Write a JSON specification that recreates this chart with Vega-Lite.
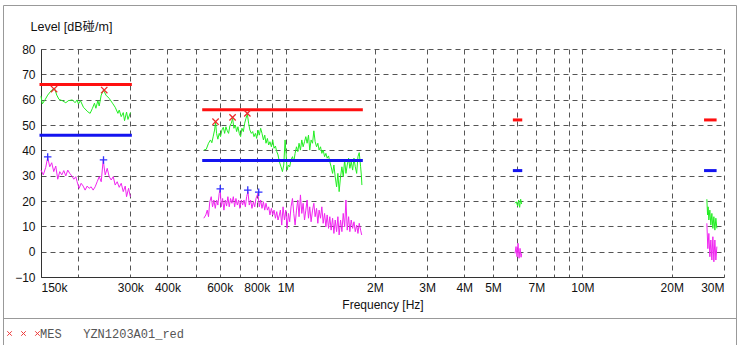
{
  "$schema": "https://vega.github.io/schema/vega-lite/v6.json",
  "padding": {"left": 3, "top": 5, "right": 0, "bottom": 0},
  "config": {
    "view": {"stroke": null},
    "font": "Liberation Sans",
    "axis": {"labelFont": "Liberation Sans", "titleFont": "Liberation Sans, Noto Sans CJK SC", "titleFontWeight": "normal"},
    "axisY": {"labelOverlap": false}
  },
  "datasets": {
    "meas": [
      {"f":150,"dB":61.4,"det":"PK","seg":1},{"f":151.5,"dB":58.3,"det":"PK","seg":1},{"f":154.7,"dB":59.9,"det":"PK","seg":1},{"f":158,"dB":61.8,"det":"PK","seg":1},{"f":163,"dB":63.8,"det":"PK","seg":1},{"f":166.4,"dB":64.6,"det":"PK","seg":1},{"f":169.5,"dB":61.8,"det":"PK","seg":1},{"f":172.5,"dB":60.1,"det":"PK","seg":1},{"f":177,"dB":59.6,"det":"PK","seg":1},{"f":181.8,"dB":58.8,"det":"PK","seg":1},{"f":185.5,"dB":59.6,"det":"PK","seg":1},{"f":191.4,"dB":59.9,"det":"PK","seg":1},{"f":195.4,"dB":58.8,"det":"PK","seg":1},{"f":198.5,"dB":59.9,"det":"PK","seg":1},{"f":200.5,"dB":58.3,"det":"PK","seg":1},{"f":203.7,"dB":59.6,"det":"PK","seg":1},{"f":208.5,"dB":57,"det":"PK","seg":1},{"f":215.7,"dB":55.2,"det":"PK","seg":1},{"f":219.6,"dB":54.6,"det":"PK","seg":1},{"f":223.6,"dB":56.6,"det":"PK","seg":1},{"f":227.1,"dB":58.6,"det":"PK","seg":1},{"f":229.6,"dB":56.6,"det":"PK","seg":1},{"f":233.2,"dB":59.6,"det":"PK","seg":1},{"f":235.6,"dB":57.5,"det":"PK","seg":1},{"f":239.3,"dB":61.8,"det":"PK","seg":1},{"f":243.6,"dB":63.8,"det":"PK","seg":1},{"f":248.2,"dB":61.8,"det":"PK","seg":1},{"f":254.6,"dB":60.5,"det":"PK","seg":1},{"f":261.2,"dB":58.6,"det":"PK","seg":1},{"f":266.7,"dB":57,"det":"PK","seg":1},{"f":272.4,"dB":54.6,"det":"PK","seg":1},{"f":275.2,"dB":55.9,"det":"PK","seg":1},{"f":279.5,"dB":53.3,"det":"PK","seg":1},{"f":283.9,"dB":54.9,"det":"PK","seg":1},{"f":286.8,"dB":51.7,"det":"PK","seg":1},{"f":291.3,"dB":55.1,"det":"PK","seg":1},{"f":294.5,"dB":52.2,"det":"PK","seg":1},{"f":300,"dB":54.9,"det":"PK","seg":1},
      {"f":530.5,"dB":40.1,"det":"PK","seg":2},{"f":540.5,"dB":40.4,"det":"PK","seg":2},{"f":550.1,"dB":42.8,"det":"PK","seg":2},{"f":558.7,"dB":44.1,"det":"PK","seg":2},{"f":564.5,"dB":43,"det":"PK","seg":2},{"f":570.8,"dB":45.6,"det":"PK","seg":2},{"f":576.6,"dB":48,"det":"PK","seg":2},{"f":581.1,"dB":51,"det":"PK","seg":2},{"f":585.6,"dB":46.7,"det":"PK","seg":2},{"f":591.4,"dB":44.4,"det":"PK","seg":2},{"f":597.7,"dB":46.7,"det":"PK","seg":2},{"f":603.9,"dB":45.4,"det":"PK","seg":2},{"f":610.2,"dB":48,"det":"PK","seg":2},{"f":616.9,"dB":49.1,"det":"PK","seg":2},{"f":623.3,"dB":46.7,"det":"PK","seg":2},{"f":629.6,"dB":49.3,"det":"PK","seg":2},{"f":636.3,"dB":47.7,"det":"PK","seg":2},{"f":642.7,"dB":46.7,"det":"PK","seg":2},{"f":649.1,"dB":49.6,"det":"PK","seg":2},{"f":656.4,"dB":50.7,"det":"PK","seg":2},{"f":663.2,"dB":52.6,"det":"PK","seg":2},{"f":670,"dB":48.7,"det":"PK","seg":2},{"f":677.4,"dB":50,"det":"PK","seg":2},{"f":684.2,"dB":47.4,"det":"PK","seg":2},{"f":691,"dB":49.3,"det":"PK","seg":2},{"f":698.3,"dB":46.7,"det":"PK","seg":2},{"f":705.6,"dB":45.4,"det":"PK","seg":2},{"f":712.9,"dB":48.7,"det":"PK","seg":2},{"f":720.8,"dB":47.4,"det":"PK","seg":2},{"f":728.2,"dB":50.7,"det":"PK","seg":2},{"f":735.6,"dB":52.6,"det":"PK","seg":2},{"f":743.5,"dB":54.3,"det":"PK","seg":2},{"f":750.8,"dB":50.7,"det":"PK","seg":2},{"f":758.3,"dB":48,"det":"PK","seg":2},{"f":766.9,"dB":46.7,"det":"PK","seg":2},{"f":774.9,"dB":47.4,"det":"PK","seg":2},{"f":782.8,"dB":45.4,"det":"PK","seg":2},{"f":791.4,"dB":46.7,"det":"PK","seg":2},{"f":799.3,"dB":44.7,"det":"PK","seg":2},{"f":807.3,"dB":48,"det":"PK","seg":2},{"f":815.9,"dB":46,"det":"PK","seg":2},{"f":824.3,"dB":48.7,"det":"PK","seg":2},{"f":832.9,"dB":46.7,"det":"PK","seg":2},{"f":842.2,"dB":44.1,"det":"PK","seg":2},{"f":850.8,"dB":46,"det":"PK","seg":2},{"f":859.3,"dB":42.8,"det":"PK","seg":2},{"f":868.6,"dB":44.7,"det":"PK","seg":2},{"f":877.2,"dB":42.1,"det":"PK","seg":2},{"f":886,"dB":43.4,"det":"PK","seg":2},{"f":896,"dB":41.4,"det":"PK","seg":2},{"f":905.3,"dB":44.1,"det":"PK","seg":2},{"f":914.5,"dB":40.8,"det":"PK","seg":2},{"f":924.6,"dB":41.7,"det":"PK","seg":2},{"f":933.9,"dB":39.5,"det":"PK","seg":2},{"f":943.1,"dB":38.2,"det":"PK","seg":2},{"f":953.2,"dB":35.5,"det":"PK","seg":2},{"f":965.3,"dB":33.5,"det":"PK","seg":2},{"f":976.2,"dB":31.6,"det":"PK","seg":2},{"f":986.2,"dB":34.2,"det":"PK","seg":2},{"f":996.3,"dB":44.1,"det":"PK","seg":2},{"f":1004,"dB":38.8,"det":"PK","seg":2},{"f":1011.7,"dB":32.2,"det":"PK","seg":2},{"f":1022.6,"dB":34.2,"det":"PK","seg":2},{"f":1032.6,"dB":33.5,"det":"PK","seg":2},{"f":1043.5,"dB":36.2,"det":"PK","seg":2},{"f":1055.1,"dB":37.5,"det":"PK","seg":2},{"f":1066,"dB":35.5,"det":"PK","seg":2},{"f":1076.9,"dB":38.8,"det":"PK","seg":2},{"f":1088.5,"dB":41.4,"det":"PK","seg":2},{"f":1099.4,"dB":39.5,"det":"PK","seg":2},{"f":1110.3,"dB":42.8,"det":"PK","seg":2},{"f":1122.4,"dB":40.1,"det":"PK","seg":2},{"f":1134.2,"dB":44.1,"det":"PK","seg":2},{"f":1145.9,"dB":41.4,"det":"PK","seg":2},{"f":1158.5,"dB":43.4,"det":"PK","seg":2},{"f":1170.3,"dB":45.4,"det":"PK","seg":2},{"f":1182,"dB":42.8,"det":"PK","seg":2},{"f":1194.7,"dB":46,"det":"PK","seg":2},{"f":1206.4,"dB":40.1,"det":"PK","seg":2},{"f":1219.1,"dB":44.1,"det":"PK","seg":2},{"f":1232.8,"dB":42.8,"det":"PK","seg":2},{"f":1245.4,"dB":47.7,"det":"PK","seg":2},{"f":1258.1,"dB":43.4,"det":"PK","seg":2},{"f":1271.8,"dB":41.4,"det":"PK","seg":2},{"f":1284.5,"dB":42.8,"det":"PK","seg":2},{"f":1297.2,"dB":40.1,"det":"PK","seg":2},{"f":1311.4,"dB":41.4,"det":"PK","seg":2},{"f":1325.1,"dB":38.8,"det":"PK","seg":2},{"f":1338.8,"dB":40.1,"det":"PK","seg":2},{"f":1353.6,"dB":37.5,"det":"PK","seg":2},{"f":1367.3,"dB":38.8,"det":"PK","seg":2},{"f":1381,"dB":36.9,"det":"PK","seg":2},{"f":1395.8,"dB":37.8,"det":"PK","seg":2},{"f":1409.5,"dB":35.5,"det":"PK","seg":2},{"f":1424.3,"dB":33.5,"det":"PK","seg":2},{"f":1440.3,"dB":30.9,"det":"PK","seg":2},{"f":1455.1,"dB":34.2,"det":"PK","seg":2},{"f":1469.9,"dB":29.6,"det":"PK","seg":2},{"f":1485.9,"dB":25.6,"det":"PK","seg":2},{"f":1500.7,"dB":30.9,"det":"PK","seg":2},{"f":1515.5,"dB":23.7,"det":"PK","seg":2},{"f":1532.1,"dB":29.6,"det":"PK","seg":2},{"f":1548.2,"dB":33.5,"det":"PK","seg":2},{"f":1564.2,"dB":29.6,"det":"PK","seg":2},{"f":1581.5,"dB":36.2,"det":"PK","seg":2},{"f":1597.5,"dB":30.9,"det":"PK","seg":2},{"f":1613.5,"dB":34.2,"det":"PK","seg":2},{"f":1630.8,"dB":36.9,"det":"PK","seg":2},{"f":1646.8,"dB":32.9,"det":"PK","seg":2},{"f":1664.1,"dB":35.5,"det":"PK","seg":2},{"f":1682.8,"dB":32.2,"det":"PK","seg":2},{"f":1700.1,"dB":36.9,"det":"PK","seg":2},{"f":1717.4,"dB":33.5,"det":"PK","seg":2},{"f":1736,"dB":30.9,"det":"PK","seg":2},{"f":1753.4,"dB":37.5,"det":"PK","seg":2},{"f":1770.9,"dB":39.1,"det":"PK","seg":2},{"f":1790.1,"dB":33.5,"det":"PK","seg":2},{"f":1800,"dB":30.3,"det":"PK","seg":2},{"f":1808,"dB":26.3,"det":"PK","seg":2},
      {"f":5931,"dB":19.1,"det":"PK","seg":3},{"f":5991,"dB":19.7,"det":"PK","seg":3},{"f":6052,"dB":18,"det":"PK","seg":3},{"f":6099,"dB":20.4,"det":"PK","seg":3},{"f":6147,"dB":17.5,"det":"PK","seg":3},{"f":6195,"dB":20.7,"det":"PK","seg":3},{"f":6243,"dB":18.8,"det":"PK","seg":3},
      {"f":26262,"dB":20.7,"det":"PK","seg":4},{"f":26406,"dB":14.5,"det":"PK","seg":4},{"f":26530,"dB":17.7,"det":"PK","seg":4},{"f":26674,"dB":12.5,"det":"PK","seg":4},{"f":26882,"dB":16.4,"det":"PK","seg":4},{"f":27092,"dB":10.5,"det":"PK","seg":4},{"f":27304,"dB":15.1,"det":"PK","seg":4},{"f":27517,"dB":9.2,"det":"PK","seg":4},{"f":27732,"dB":13.8,"det":"PK","seg":4},{"f":27949,"dB":8.5,"det":"PK","seg":4},{"f":28167,"dB":13.2,"det":"PK","seg":4},{"f":28387,"dB":9.2,"det":"PK","seg":4},
      {"f":150,"dB":32.2,"det":"AV","seg":1},{"f":152.7,"dB":30.3,"det":"AV","seg":1},{"f":155.6,"dB":33.3,"det":"AV","seg":1},{"f":158,"dB":37.2,"det":"AV","seg":1},{"f":160.5,"dB":33.5,"det":"AV","seg":1},{"f":163,"dB":35.1,"det":"AV","seg":1},{"f":165.6,"dB":31.6,"det":"AV","seg":1},{"f":168.2,"dB":33.8,"det":"AV","seg":1},{"f":170.8,"dB":28.6,"det":"AV","seg":1},{"f":173.5,"dB":31.6,"det":"AV","seg":1},{"f":176.2,"dB":30.3,"det":"AV","seg":1},{"f":179,"dB":32,"det":"AV","seg":1},{"f":181.8,"dB":29.9,"det":"AV","seg":1},{"f":184.6,"dB":32.2,"det":"AV","seg":1},{"f":187.5,"dB":30.9,"det":"AV","seg":1},{"f":190.5,"dB":29.9,"det":"AV","seg":1},{"f":193.5,"dB":28.6,"det":"AV","seg":1},{"f":196.5,"dB":29.6,"det":"AV","seg":1},{"f":198.5,"dB":27.6,"det":"AV","seg":1},{"f":201.6,"dB":25,"det":"AV","seg":1},{"f":204.8,"dB":27,"det":"AV","seg":1},{"f":208,"dB":25.9,"det":"AV","seg":1},{"f":211.2,"dB":24.3,"det":"AV","seg":1},{"f":214.6,"dB":25.9,"det":"AV","seg":1},{"f":217.9,"dB":25,"det":"AV","seg":1},{"f":221.3,"dB":25.6,"det":"AV","seg":1},{"f":224.8,"dB":24.3,"det":"AV","seg":1},{"f":228.3,"dB":25.6,"det":"AV","seg":1},{"f":231.9,"dB":27.6,"det":"AV","seg":1},{"f":235.6,"dB":29.6,"det":"AV","seg":1},{"f":239.3,"dB":27.6,"det":"AV","seg":1},{"f":243,"dB":36.2,"det":"AV","seg":1},{"f":246.8,"dB":30.3,"det":"AV","seg":1},{"f":250.7,"dB":32.9,"det":"AV","seg":1},{"f":254.6,"dB":29.6,"det":"AV","seg":1},{"f":258.6,"dB":28.3,"det":"AV","seg":1},{"f":262.7,"dB":29.6,"det":"AV","seg":1},{"f":266.7,"dB":26.3,"det":"AV","seg":1},{"f":270.9,"dB":27.6,"det":"AV","seg":1},{"f":275.2,"dB":25.4,"det":"AV","seg":1},{"f":279.5,"dB":27,"det":"AV","seg":1},{"f":283.9,"dB":23.7,"det":"AV","seg":1},{"f":288.3,"dB":25.9,"det":"AV","seg":1},{"f":291.3,"dB":21.7,"det":"AV","seg":1},{"f":295.9,"dB":25,"det":"AV","seg":1},{"f":300,"dB":21.7,"det":"AV","seg":1},
      {"f":530.5,"dB":13.2,"det":"AV","seg":2},{"f":538.8,"dB":14.5,"det":"AV","seg":2},{"f":544.7,"dB":16.4,"det":"AV","seg":2},{"f":550.1,"dB":13.8,"det":"AV","seg":2},{"f":555.5,"dB":19.7,"det":"AV","seg":2},{"f":561.8,"dB":21.7,"det":"AV","seg":2},{"f":567.6,"dB":17.7,"det":"AV","seg":2},{"f":573.5,"dB":20.4,"det":"AV","seg":2},{"f":579.7,"dB":17.1,"det":"AV","seg":2},{"f":585.6,"dB":20.4,"det":"AV","seg":2},{"f":591.4,"dB":18.4,"det":"AV","seg":2},{"f":597.7,"dB":23,"det":"AV","seg":2},{"f":602.4,"dB":24.6,"det":"AV","seg":2},{"f":607.2,"dB":17.7,"det":"AV","seg":2},{"f":613.6,"dB":21,"det":"AV","seg":2},{"f":619.9,"dB":16.4,"det":"AV","seg":2},{"f":626.6,"dB":20.4,"det":"AV","seg":2},{"f":633,"dB":18,"det":"AV","seg":2},{"f":639.3,"dB":21.7,"det":"AV","seg":2},{"f":646,"dB":17.7,"det":"AV","seg":2},{"f":652.7,"dB":21,"det":"AV","seg":2},{"f":659.6,"dB":19.1,"det":"AV","seg":2},{"f":666.9,"dB":21.7,"det":"AV","seg":2},{"f":673.7,"dB":17.7,"det":"AV","seg":2},{"f":680.5,"dB":21,"det":"AV","seg":2},{"f":687.8,"dB":18.4,"det":"AV","seg":2},{"f":694.7,"dB":20.4,"det":"AV","seg":2},{"f":701.6,"dB":17.1,"det":"AV","seg":2},{"f":709.5,"dB":20.4,"det":"AV","seg":2},{"f":716.9,"dB":18.4,"det":"AV","seg":2},{"f":724.2,"dB":20.4,"det":"AV","seg":2},{"f":732.2,"dB":17.7,"det":"AV","seg":2},{"f":739.5,"dB":21.7,"det":"AV","seg":2},{"f":746.9,"dB":23.7,"det":"AV","seg":2},{"f":754.8,"dB":18.4,"det":"AV","seg":2},{"f":762.6,"dB":20.4,"det":"AV","seg":2},{"f":770.6,"dB":17.1,"det":"AV","seg":2},{"f":779.1,"dB":19.7,"det":"AV","seg":2},{"f":787.1,"dB":17.7,"det":"AV","seg":2},{"f":795.1,"dB":21,"det":"AV","seg":2},{"f":807.3,"dB":23,"det":"AV","seg":2},{"f":815.9,"dB":17.7,"det":"AV","seg":2},{"f":824.3,"dB":20.4,"det":"AV","seg":2},{"f":832.9,"dB":17.1,"det":"AV","seg":2},{"f":842.2,"dB":19.7,"det":"AV","seg":2},{"f":850.8,"dB":16.4,"det":"AV","seg":2},{"f":859.3,"dB":19.1,"det":"AV","seg":2},{"f":868.6,"dB":16.4,"det":"AV","seg":2},{"f":877.2,"dB":17.7,"det":"AV","seg":2},{"f":886,"dB":14.5,"det":"AV","seg":2},{"f":896,"dB":17.1,"det":"AV","seg":2},{"f":905.3,"dB":14.5,"det":"AV","seg":2},{"f":914.5,"dB":16.4,"det":"AV","seg":2},{"f":924.6,"dB":13.2,"det":"AV","seg":2},{"f":933.9,"dB":15.8,"det":"AV","seg":2},{"f":943.1,"dB":12.5,"det":"AV","seg":2},{"f":953.2,"dB":14.5,"det":"AV","seg":2},{"f":960.7,"dB":16.4,"det":"AV","seg":2},{"f":970.8,"dB":10.5,"det":"AV","seg":2},{"f":980.8,"dB":17.7,"det":"AV","seg":2},{"f":991.6,"dB":12.5,"det":"AV","seg":2},{"f":1001.7,"dB":16.4,"det":"AV","seg":2},{"f":1011.7,"dB":9.2,"det":"AV","seg":2},{"f":1022.6,"dB":15.1,"det":"AV","seg":2},{"f":1032.6,"dB":11.8,"det":"AV","seg":2},{"f":1043.5,"dB":17.7,"det":"AV","seg":2},{"f":1055.1,"dB":21,"det":"AV","seg":2},{"f":1066,"dB":15.1,"det":"AV","seg":2},{"f":1076.9,"dB":10.5,"det":"AV","seg":2},{"f":1088.5,"dB":16.4,"det":"AV","seg":2},{"f":1099.4,"dB":20.4,"det":"AV","seg":2},{"f":1110.3,"dB":13.8,"det":"AV","seg":2},{"f":1122.4,"dB":22.4,"det":"AV","seg":2},{"f":1134.2,"dB":15.1,"det":"AV","seg":2},{"f":1145.9,"dB":19.1,"det":"AV","seg":2},{"f":1158.5,"dB":12.5,"det":"AV","seg":2},{"f":1170.3,"dB":16.4,"det":"AV","seg":2},{"f":1182,"dB":20.4,"det":"AV","seg":2},{"f":1194.7,"dB":13.2,"det":"AV","seg":2},{"f":1206.4,"dB":17.7,"det":"AV","seg":2},{"f":1219.1,"dB":11.8,"det":"AV","seg":2},{"f":1232.8,"dB":16.4,"det":"AV","seg":2},{"f":1245.4,"dB":19.1,"det":"AV","seg":2},{"f":1258.1,"dB":13.8,"det":"AV","seg":2},{"f":1271.8,"dB":17.1,"det":"AV","seg":2},{"f":1284.5,"dB":11.2,"det":"AV","seg":2},{"f":1297.2,"dB":16.4,"det":"AV","seg":2},{"f":1311.4,"dB":13.2,"det":"AV","seg":2},{"f":1325.1,"dB":17.7,"det":"AV","seg":2},{"f":1338.8,"dB":11.2,"det":"AV","seg":2},{"f":1353.6,"dB":15.1,"det":"AV","seg":2},{"f":1367.3,"dB":9.8,"det":"AV","seg":2},{"f":1381,"dB":14.5,"det":"AV","seg":2},{"f":1395.8,"dB":9.2,"det":"AV","seg":2},{"f":1409.5,"dB":13.8,"det":"AV","seg":2},{"f":1424.3,"dB":8.5,"det":"AV","seg":2},{"f":1440.3,"dB":13.2,"det":"AV","seg":2},{"f":1455.1,"dB":7.2,"det":"AV","seg":2},{"f":1469.9,"dB":12.5,"det":"AV","seg":2},{"f":1485.9,"dB":7.9,"det":"AV","seg":2},{"f":1500.7,"dB":13.8,"det":"AV","seg":2},{"f":1515.5,"dB":6.6,"det":"AV","seg":2},{"f":1532.1,"dB":12.5,"det":"AV","seg":2},{"f":1548.2,"dB":7.9,"det":"AV","seg":2},{"f":1564.2,"dB":15.1,"det":"AV","seg":2},{"f":1581.5,"dB":9.8,"det":"AV","seg":2},{"f":1597.5,"dB":20.4,"det":"AV","seg":2},{"f":1613.5,"dB":8.5,"det":"AV","seg":2},{"f":1630.8,"dB":13.8,"det":"AV","seg":2},{"f":1646.8,"dB":7.9,"det":"AV","seg":2},{"f":1664.1,"dB":12.5,"det":"AV","seg":2},{"f":1682.8,"dB":9.2,"det":"AV","seg":2},{"f":1700.1,"dB":11.8,"det":"AV","seg":2},{"f":1717.4,"dB":7.9,"det":"AV","seg":2},{"f":1736,"dB":10.5,"det":"AV","seg":2},{"f":1753.4,"dB":7.2,"det":"AV","seg":2},{"f":1770.9,"dB":11.2,"det":"AV","seg":2},{"f":1790.1,"dB":8.5,"det":"AV","seg":2},{"f":1805,"dB":6.6,"det":"AV","seg":2},
      {"f":5931,"dB":-0.7,"det":"AV","seg":3},{"f":5977,"dB":2,"det":"AV","seg":3},{"f":6024,"dB":-2,"det":"AV","seg":3},{"f":6071,"dB":3.3,"det":"AV","seg":3},{"f":6118,"dB":-2.6,"det":"AV","seg":3},{"f":6166,"dB":1.3,"det":"AV","seg":3},{"f":6215,"dB":-2.2,"det":"AV","seg":3},{"f":6243,"dB":-0.7,"det":"AV","seg":3},
      {"f":26262,"dB":11.2,"det":"AV","seg":4},{"f":26468,"dB":1.2,"det":"AV","seg":4},{"f":26674,"dB":7.2,"det":"AV","seg":4},{"f":26882,"dB":-2,"det":"AV","seg":4},{"f":27092,"dB":4.6,"det":"AV","seg":4},{"f":27304,"dB":-3.3,"det":"AV","seg":4},{"f":27517,"dB":5.9,"det":"AV","seg":4},{"f":27732,"dB":-4,"det":"AV","seg":4},{"f":27949,"dB":4.6,"det":"AV","seg":4},{"f":28167,"dB":-3.3,"det":"AV","seg":4},{"f":28387,"dB":2,"det":"AV","seg":4}
    ],
    "limits": [
      {"f":150,"f2":300,"dB":66,"det":"PK"},{"f":530,"f2":1800,"dB":56,"det":"PK"},{"f":5900,"f2":6200,"dB":52,"det":"PK"},{"f":26000,"f2":28000,"dB":52,"det":"PK"},
      {"f":150,"f2":300,"dB":46,"det":"AV"},{"f":530,"f2":1800,"dB":36,"det":"AV"},{"f":5900,"f2":6200,"dB":32,"det":"AV"},{"f":26000,"f2":28000,"dB":32,"det":"AV"}
    ],
    "peaks": [
      {"f":166,"dB":64.2,"det":"PK"},{"f":245,"dB":63.8,"det":"PK"},{"f":581,"dB":51.3,"det":"PK"},{"f":663,"dB":53,"det":"PK"},{"f":743.5,"dB":54.6,"det":"PK"},
      {"f":158,"dB":37.4,"det":"AV"},{"f":243.6,"dB":36.2,"det":"AV"},{"f":602.5,"dB":24.8,"det":"AV"},{"f":746,"dB":24.3,"det":"AV"},{"f":812,"dB":23.5,"det":"AV"}
    ],
    "legend": [{"series": "MES\u00a0\u00a0\u00a0YZN1203A01_red"}]
  },
  "concat": [
    {
      "width": 683,
      "height": 228,
      "encoding": {
        "x": {
          "field": "f", "type": "quantitative", "title": "Frequency [Hz]",
          "scale": {"type": "log", "domain": [150, 30000], "nice": false},
          "axis": {
            "values": [150,200,300,400,500,600,700,800,900,1000,2000,3000,4000,5000,6000,7000,8000,9000,10000,20000,30000],
            "labelExpr": "indexof([150,300,400,600,800,1000,2000,3000,4000,5000,7000,10000,20000,30000], datum.value) >= 0 ? (datum.value < 1000 ? datum.value + 'k' : (datum.value / 1000) + 'M') : ''",
            "labelFlush": true, "labelOverlap": false,
            "grid": true, "gridDash": [5, 4], "gridColor": "#555", "gridWidth": 1,
            "ticks": false, "tickSize": 0, "labelPadding": 5,
            "labelFontSize": 12, "labelColor": "#111",
            "domainColor": "#333", "domainWidth": 1,
            "titleFontSize": 12, "titleColor": "#111",
            "titleX": 341.5, "titleY": 27, "titleAlign": "center", "titleBaseline": "middle"
          }
        },
        "y": {
          "field": "dB", "type": "quantitative", "title": "Level [dB碰/m]",
          "scale": {"domain": [-10, 80], "nice": false, "zero": false},
          "axis": {
            "values": [-10,0,10,20,30,40,50,60,70,80],
            "labelOverlap": false,
            "grid": true, "gridDash": [5, 4], "gridColor": "#555", "gridWidth": 1,
            "ticks": false, "tickSize": 0, "labelPadding": 6,
            "labelFontSize": 12, "labelColor": "#111",
            "domainColor": "#333", "domainWidth": 1,
            "minExtent": 38,
            "titleFontSize": 12.5, "titleColor": "#111",
            "titleAngle": 0, "titleX": -11, "titleY": -29, "titleAlign": "left", "titleBaseline": "top"
          }
        }
      },
      "layer": [
        {
          "data": {"name": "meas"},
          "transform": [{"filter": "datum.det === 'PK'"}],
          "mark": {"type": "line", "strokeWidth": 1, "color": "#22ee22"},
          "encoding": {"detail": {"field": "seg", "type": "nominal"}}
        },
        {
          "data": {"name": "meas"},
          "transform": [{"filter": "datum.det === 'AV'"}],
          "mark": {"type": "line", "strokeWidth": 1, "color": "#f025f0"},
          "encoding": {"detail": {"field": "seg", "type": "nominal"}}
        },
        {
          "data": {"name": "limits"},
          "transform": [{"filter": "datum.det === 'PK'"}],
          "mark": {"type": "rule", "strokeWidth": 3, "strokeCap": "square", "color": "#ff1010"},
          "encoding": {"x2": {"field": "f2"}}
        },
        {
          "data": {"name": "limits"},
          "transform": [{"filter": "datum.det === 'AV'"}],
          "mark": {"type": "rule", "strokeWidth": 3, "strokeCap": "square", "color": "#1414f0"},
          "encoding": {"x2": {"field": "f2"}}
        },
        {
          "data": {"name": "peaks"},
          "transform": [{"filter": "datum.det === 'PK'"}],
          "mark": {"type": "point", "shape": "M-1,-1L1,1M-1,1L1,-1", "size": 40, "filled": false, "strokeWidth": 1.3, "color": "#ee2a2a", "opacity": 1}
        },
        {
          "data": {"name": "peaks"},
          "transform": [{"filter": "datum.det === 'AV'"}],
          "mark": {"type": "point", "shape": "M-1,0L1,0M0,-1L0,1", "size": 56, "filled": false, "strokeWidth": 1.3, "color": "#3030ff", "opacity": 1}
        }
      ]
    },
    {
      "width": 695,
      "height": 340,
      "data": {"name": "legend"},
      "layer": [
        {
          "mark": {"type": "point", "opacity": 0, "filled": false},
          "encoding": {
            "x": {
              "field": "series", "type": "nominal", "scale": {"type": "point", "range": [-38, 695]},
              "axis": {"orient": "top", "offset": 0, "labels": false, "ticks": false, "grid": false, "title": null, "domainColor": "#999", "domainWidth": 1, "minExtent": 0, "maxExtent": 0}
            },
            "y": {
              "field": "series", "type": "nominal", "scale": {"type": "point"},
              "axis": {"orient": "left", "offset": 38, "labels": false, "ticks": false, "grid": false, "title": null, "domainColor": "#999", "domainWidth": 1, "minExtent": 0, "maxExtent": 0}
            },
            "color": {
              "field": "series", "type": "nominal",
              "scale": {"range": ["#ee3a3a"]},
              "legend": {
                "title": null, "orient": "none", "legendX": -33, "legendY": 313, "padding": 0,
                "symbolType": "M-1.08,-0.15L-0.78,0.15M-1.08,0.15L-0.78,-0.15M-0.15,-0.15L0.15,0.15M-0.15,0.15L0.15,-0.15M0.78,-0.15L1.08,0.15M0.78,0.15L1.08,-0.15",
                "symbolSize": 900, "symbolStrokeWidth": 1, "symbolFillColor": "transparent", "symbolOpacity": 1,
                "labelFont": "Liberation Mono", "labelFontSize": 12, "labelColor": "#555", "labelOffset": 1
              }
            }
          }
        },
        {
          "mark": {"type": "point", "opacity": 0, "filled": false},
          "encoding": {
            "x": {
              "field": "series", "type": "nominal", "scale": {"type": "point", "range": [-38, 695]},
              "axis": {"orient": "bottom", "offset": 0, "labels": false, "ticks": false, "grid": false, "title": null, "domainColor": "#999", "domainWidth": 1, "minExtent": 0, "maxExtent": 0}
            },
            "y": {
              "field": "series", "type": "nominal", "scale": {"type": "point"},
              "axis": {"orient": "right", "offset": 0, "labels": false, "ticks": false, "grid": false, "title": null, "domainColor": "#999", "domainWidth": 1, "minExtent": 0, "maxExtent": 0}
            }
          }
        },
        {
          "mark": {"type": "point", "opacity": 0, "filled": false},
          "encoding": {
            "x": {
              "field": "series", "type": "nominal", "scale": {"type": "point", "range": [-38, 695]},
              "axis": {"orient": "bottom", "offset": -27, "labels": false, "ticks": false, "grid": false, "title": null, "domainColor": "#999", "domainWidth": 1, "minExtent": 0, "maxExtent": 0}
            }
          }
        }
      ],
      "resolve": {"scale": {"x": "independent", "y": "independent"}, "axis": {"x": "independent", "y": "independent"}}
    }
  ],
  "columns": 1,
  "align": "none",
  "spacing": -305,
  "resolve": {"legend": {"color": "independent"}}
}
